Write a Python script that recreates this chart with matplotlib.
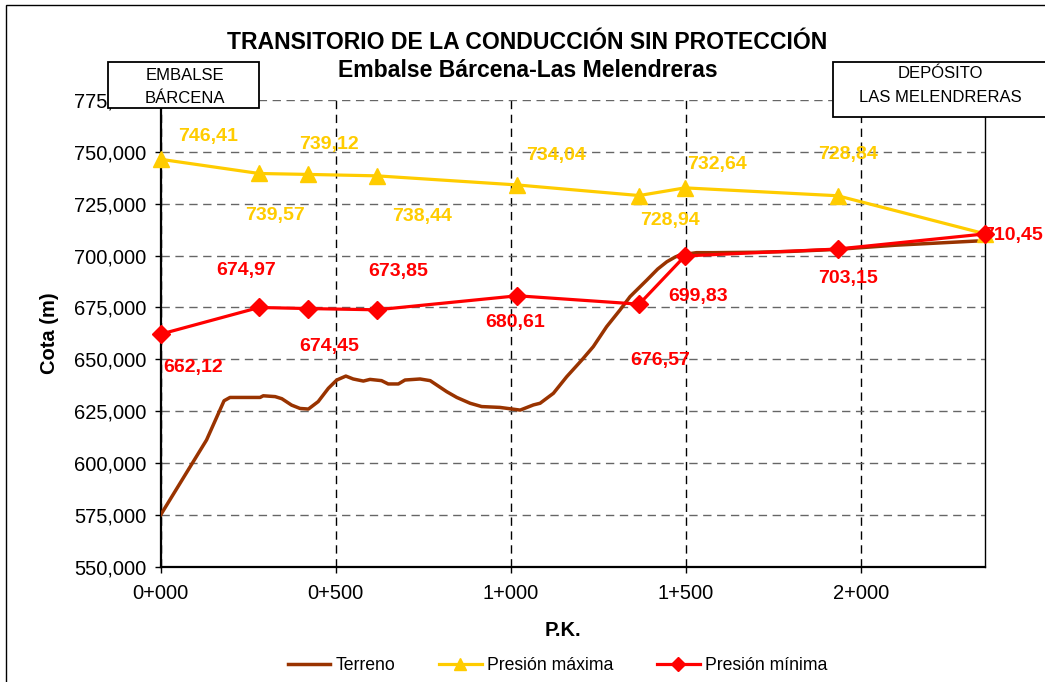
"""
Transitorio de la conducción sin protección
Embalse Bárcena - Las Melendreras
Perfil del terreno y envolventes de presión máxima / mínima.
"""

import matplotlib
matplotlib.use("Agg")
import matplotlib.pyplot as plt
from matplotlib.patches import Rectangle
from matplotlib.ticker import FuncFormatter

plt.rcParams["font.family"] = ["Liberation Sans", "DejaVu Sans"]

# ----------------------------
# 1. DATOS
# ----------------------------

# Perfil del terreno (P.K. en m, cota en m)
pk_terreno = [0, 131, 181, 198, 284, 293, 327, 346, 374, 398, 422, 450, 479,
              503, 529, 550, 579, 598, 631, 650, 679, 698, 741, 770, 817, 846,
              884, 917, 969, 1027, 1065, 1084, 1122, 1160, 1203, 1236, 1274,
              1312, 1341, 1389, 1420, 1446, 1470, 1484, 1531, 1579, 1700, 1800,
              1934, 2100, 2330]
cota_terreno = [575.0, 611.1, 630.0, 631.6, 631.6, 632.4, 632.0, 631.0, 627.9,
                626.3, 626.0, 629.6, 636.0, 640.0, 641.9, 640.5, 639.5, 640.3,
                639.7, 638.1, 638.1, 640.0, 640.5, 639.7, 634.4, 631.6, 628.8,
                627.2, 626.8, 625.5, 628.0, 628.8, 633.6, 641.6, 649.6, 656.1,
                665.7, 673.7, 680.2, 688.2, 693.5, 697.0, 699.3, 700.3, 701.4,
                701.4, 701.6, 702.0, 703.0, 705.0, 707.0]

# Puntos de cálculo de presiones
pk_puntos = [0, 281, 422, 617, 1019, 1367, 1498, 1934, 2356]
presion_max = [746.41, 739.57, 739.12, 738.44, 734.04, 728.94, 732.64, 728.84, 710.45]
presion_min = [662.12, 674.97, 674.45, 673.85, 680.61, 676.57, 699.83, 703.15, 710.45]

pk_ticks = [0, 500, 1000, 1500, 2000]
pk_labels = ["0+000", "0+500", "1+000", "1+500", "2+000"]
cota_ticks = [550, 575, 600, 625, 650, 675, 700, 725, 750, 775]

# desplazamiento de etiquetas (pixeles) -- None = sin etiqueta
off_max = [(47, 23), (16, -42), (21, 30), (45, -41), (39, 29), (31, -25),
           (32, 23), (10, 41), None]
off_min = [(32, -33), (-13, 37), (21, -38), (22, 38), (-2, -27), (21, -56),
           (13, -41), (10, -29), (28, -2)]

C_TER = "#993300"
C_MAX = "#FFCC00"
C_MIN = "#FF0000"

# ----------------------------
# 2. FIGURA
# ----------------------------
W, H = 1045, 682
fig = plt.figure(figsize=(W / 100, H / 100), dpi=100)
ax = fig.add_axes([160.7 / W, 1 - 566.7 / H, (985.3 - 160.7) / W, (566.7 - 100) / H])

ax.plot(pk_terreno, cota_terreno, color=C_TER, lw=2.5, label="Terreno", zorder=3)
ax.plot(pk_puntos, presion_max, color=C_MAX, lw=2.3, marker="^", ms=12,
        label="Presión máxima", zorder=4, clip_on=False)
ax.plot(pk_puntos, presion_min, color=C_MIN, lw=2.3, marker="D", ms=9,
        label="Presión mínima", zorder=5, clip_on=False)

lbl = dict(ha="center", va="center", fontsize=14, fontweight="bold",
           textcoords="offset pixels", annotation_clip=False)
for x, y, o in zip(pk_puntos, presion_max, off_max):
    if o:
        ax.annotate(f"{y:.2f}".replace(".", ","), (x, y), xytext=o, color=C_MAX, **lbl)
for x, y, o in zip(pk_puntos, presion_min, off_min):
    ax.annotate(f"{y:.2f}".replace(".", ","), (x, y), xytext=o, color=C_MIN, zorder=6, **lbl)

ax.set_xlim(0, 2356)
ax.set_ylim(550, 775)
ax.set_xticks(pk_ticks)
ax.set_xticklabels(pk_labels)
ax.set_yticks(cota_ticks)
ax.yaxis.set_major_formatter(FuncFormatter(lambda v, p: f"{v:.3f}".replace(".", ",")))
ax.tick_params(labelsize=14.5, direction="out", length=4.3, width=1)
ax.tick_params(axis="x", pad=8)
ax.tick_params(axis="y", pad=6)

ax.grid(axis="y", color="#666666", ls=(0, (6, 4)), lw=1)
ax.grid(axis="x", color="black", ls=(0, (6, 4)), lw=1)
ax.spines["top"].set_visible(False)
for s in ["left", "bottom"]:
    ax.spines[s].set_linewidth(1.6)
ax.spines["right"].set_linewidth(1)

ax.set_xlabel("P.K.", fontsize=14.5, fontweight="bold", va="center")
ax.xaxis.set_label_coords((563 - 160.7) / 824.6, (566.7 - 631) / 466.7)
ax.set_ylabel("Cota (m)", fontsize=14.5, fontweight="bold", va="center")
ax.yaxis.set_label_coords((49 - 160.7) / 824.6, 0.5)

# ----------------------------
# 3. TITULOS, CAJAS, LEYENDA
# ----------------------------
fig.text(527.5 / W, 1 - 49 / H, "TRANSITORIO DE LA CONDUCCIÓN SIN PROTECCIÓN",
         ha="center", va="baseline", fontsize=16.6, fontweight="bold")
fig.text(527.5 / W, 1 - 77 / H, "Embalse Bárcena-Las Melendreras",
         ha="center", va="baseline", fontsize=16.6, fontweight="bold")


def caja(x0, y0, x1, y1, lineas, xc, bases):
    fig.add_artist(Rectangle((x0 / W, 1 - y1 / H), (x1 - x0) / W, (y1 - y0) / H,
                             transform=fig.transFigure, fc="white", ec="black",
                             lw=1.3, zorder=5))
    for t, yb in zip(lineas, bases):
        fig.text(xc / W, 1 - yb / H, t, ha="center", va="baseline",
                 fontsize=12, zorder=6)


caja(108, 62, 259, 108, ["EMBALSE", "BÁRCENA"], 185, [80, 103])
caja(833, 62, 1050, 117, ["DEPÓSITO", "LAS MELENDRERAS"], 940.5, [78.5, 101.5])

# marco exterior
fig.add_artist(Rectangle((6 / W, -0.1), 1, 1.1 - 5 / H,
                         transform=fig.transFigure, fc="none", ec="black",
                         lw=1, zorder=1))

fig.legend(*ax.get_legend_handles_labels(), loc="center", ncol=3, frameon=False,
           bbox_to_anchor=(557.5 / W, 1 - 666 / H), fontsize=12.7, handlelength=2.4,
           handletextpad=0.3, columnspacing=2.5, markerscale=0.75)

fig.savefig("out.png", dpi=100)
